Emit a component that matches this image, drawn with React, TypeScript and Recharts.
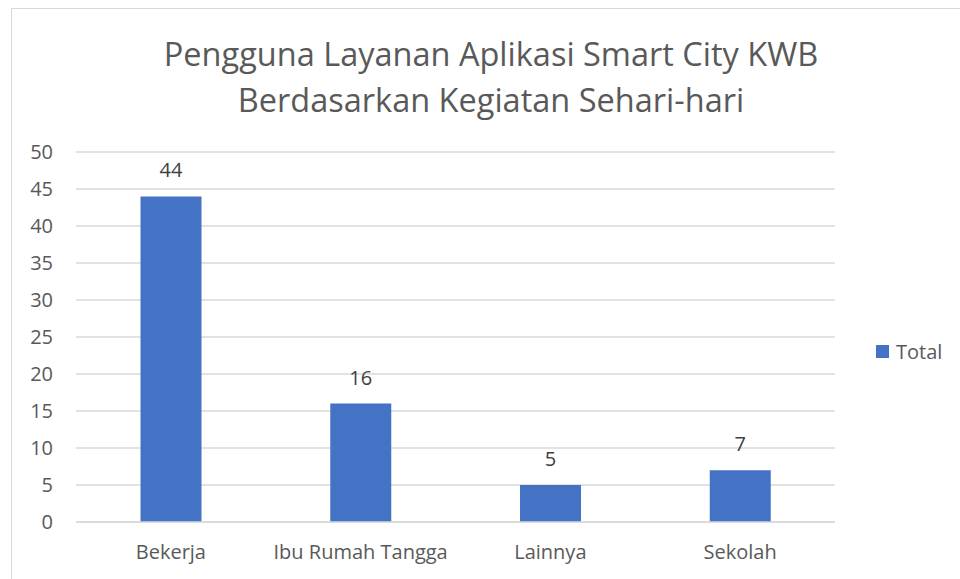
import React from 'react';
import { BarChart, Bar, XAxis, YAxis, CartesianGrid, LabelList } from 'recharts';

const categories = ['Bekerja', 'Ibu Rumah Tangga', 'Lainnya', 'Sekolah'];
const totals = [44, 16, 5, 7];
const yTicks = [0, 5, 10, 15, 20, 25, 30, 35, 40, 45, 50];
const titleLines = ['Pengguna Layanan Aplikasi Smart City KWB', 'Berdasarkan Kegiatan Sehari-hari'];
const seriesName = 'Total';

const BLUE = '#4472C4';
const TEXT = '#595959';
const GRID = '#d9d9d9';
const FONT = '"Open Sans", Lato, sans-serif';

const data = categories.map((name, i) => ({ name, total: totals[i] }));

export default function App() {
  return (
    <div
      style={{
        position: 'absolute',
        left: 0,
        top: 0,
        width: 960,
        height: 579,
        background: '#fff',
        fontFamily: FONT,
        overflow: 'hidden',
      }}
    >
      {/* chart frame */}
      <div
        style={{
          position: 'absolute',
          left: 11,
          top: 8,
          width: 960,
          height: 600,
          border: `1.5px solid ${GRID}`,
          boxSizing: 'border-box',
        }}
      />

      {/* title */}
      <div
        style={{
          position: 'absolute',
          left: 0,
          top: 31,
          width: 982,
          textAlign: 'center',
          color: TEXT,
          fontSize: 32.5,
          lineHeight: '46px',
        }}
      >
        {titleLines.map((t) => (
          <div key={t}>{t}</div>
        ))}
      </div>

      <BarChart
        width={960}
        height={579}
        data={data}
        margin={{ top: 152, right: 125, left: 0, bottom: 0 }}
        barCategoryGap="34%"
        style={{ position: 'absolute', left: 0, top: 0 }}
      >
        <CartesianGrid vertical={false} stroke={GRID} strokeWidth={1.5} />
        <XAxis
          dataKey="name"
          height={57}
          tickLine={false}
          axisLine={{ stroke: GRID, strokeWidth: 1.5 }}
          tickSize={0}
          tickMargin={23}
          tick={{ fill: TEXT, fontSize: 20, fontFamily: FONT }}
          interval={0}
        />
        <YAxis
          width={76}
          domain={[0, 50]}
          ticks={yTicks}
          interval={0}
          tickLine={false}
          axisLine={false}
          tickSize={0}
          tickMargin={23}
          tick={{ fill: TEXT, fontSize: 20, fontFamily: FONT }}
        />
        <Bar dataKey="total" name={seriesName} fill={BLUE} isAnimationActive={false}>
          <LabelList
            dataKey="total"
            position="top"
            offset={19}
            style={{ fill: '#404040', fontSize: 20, fontFamily: FONT }}
          />
        </Bar>
      </BarChart>

      {/* legend */}
      <div
        style={{
          position: 'absolute',
          left: 876,
          top: 338,
          display: 'flex',
          alignItems: 'center',
          color: TEXT,
          fontSize: 20,
        }}
      >
        <span style={{ display: 'inline-block', width: 13, height: 13, background: BLUE, marginRight: 7 }} />
        <span>{seriesName}</span>
      </div>
    </div>
  );
}
